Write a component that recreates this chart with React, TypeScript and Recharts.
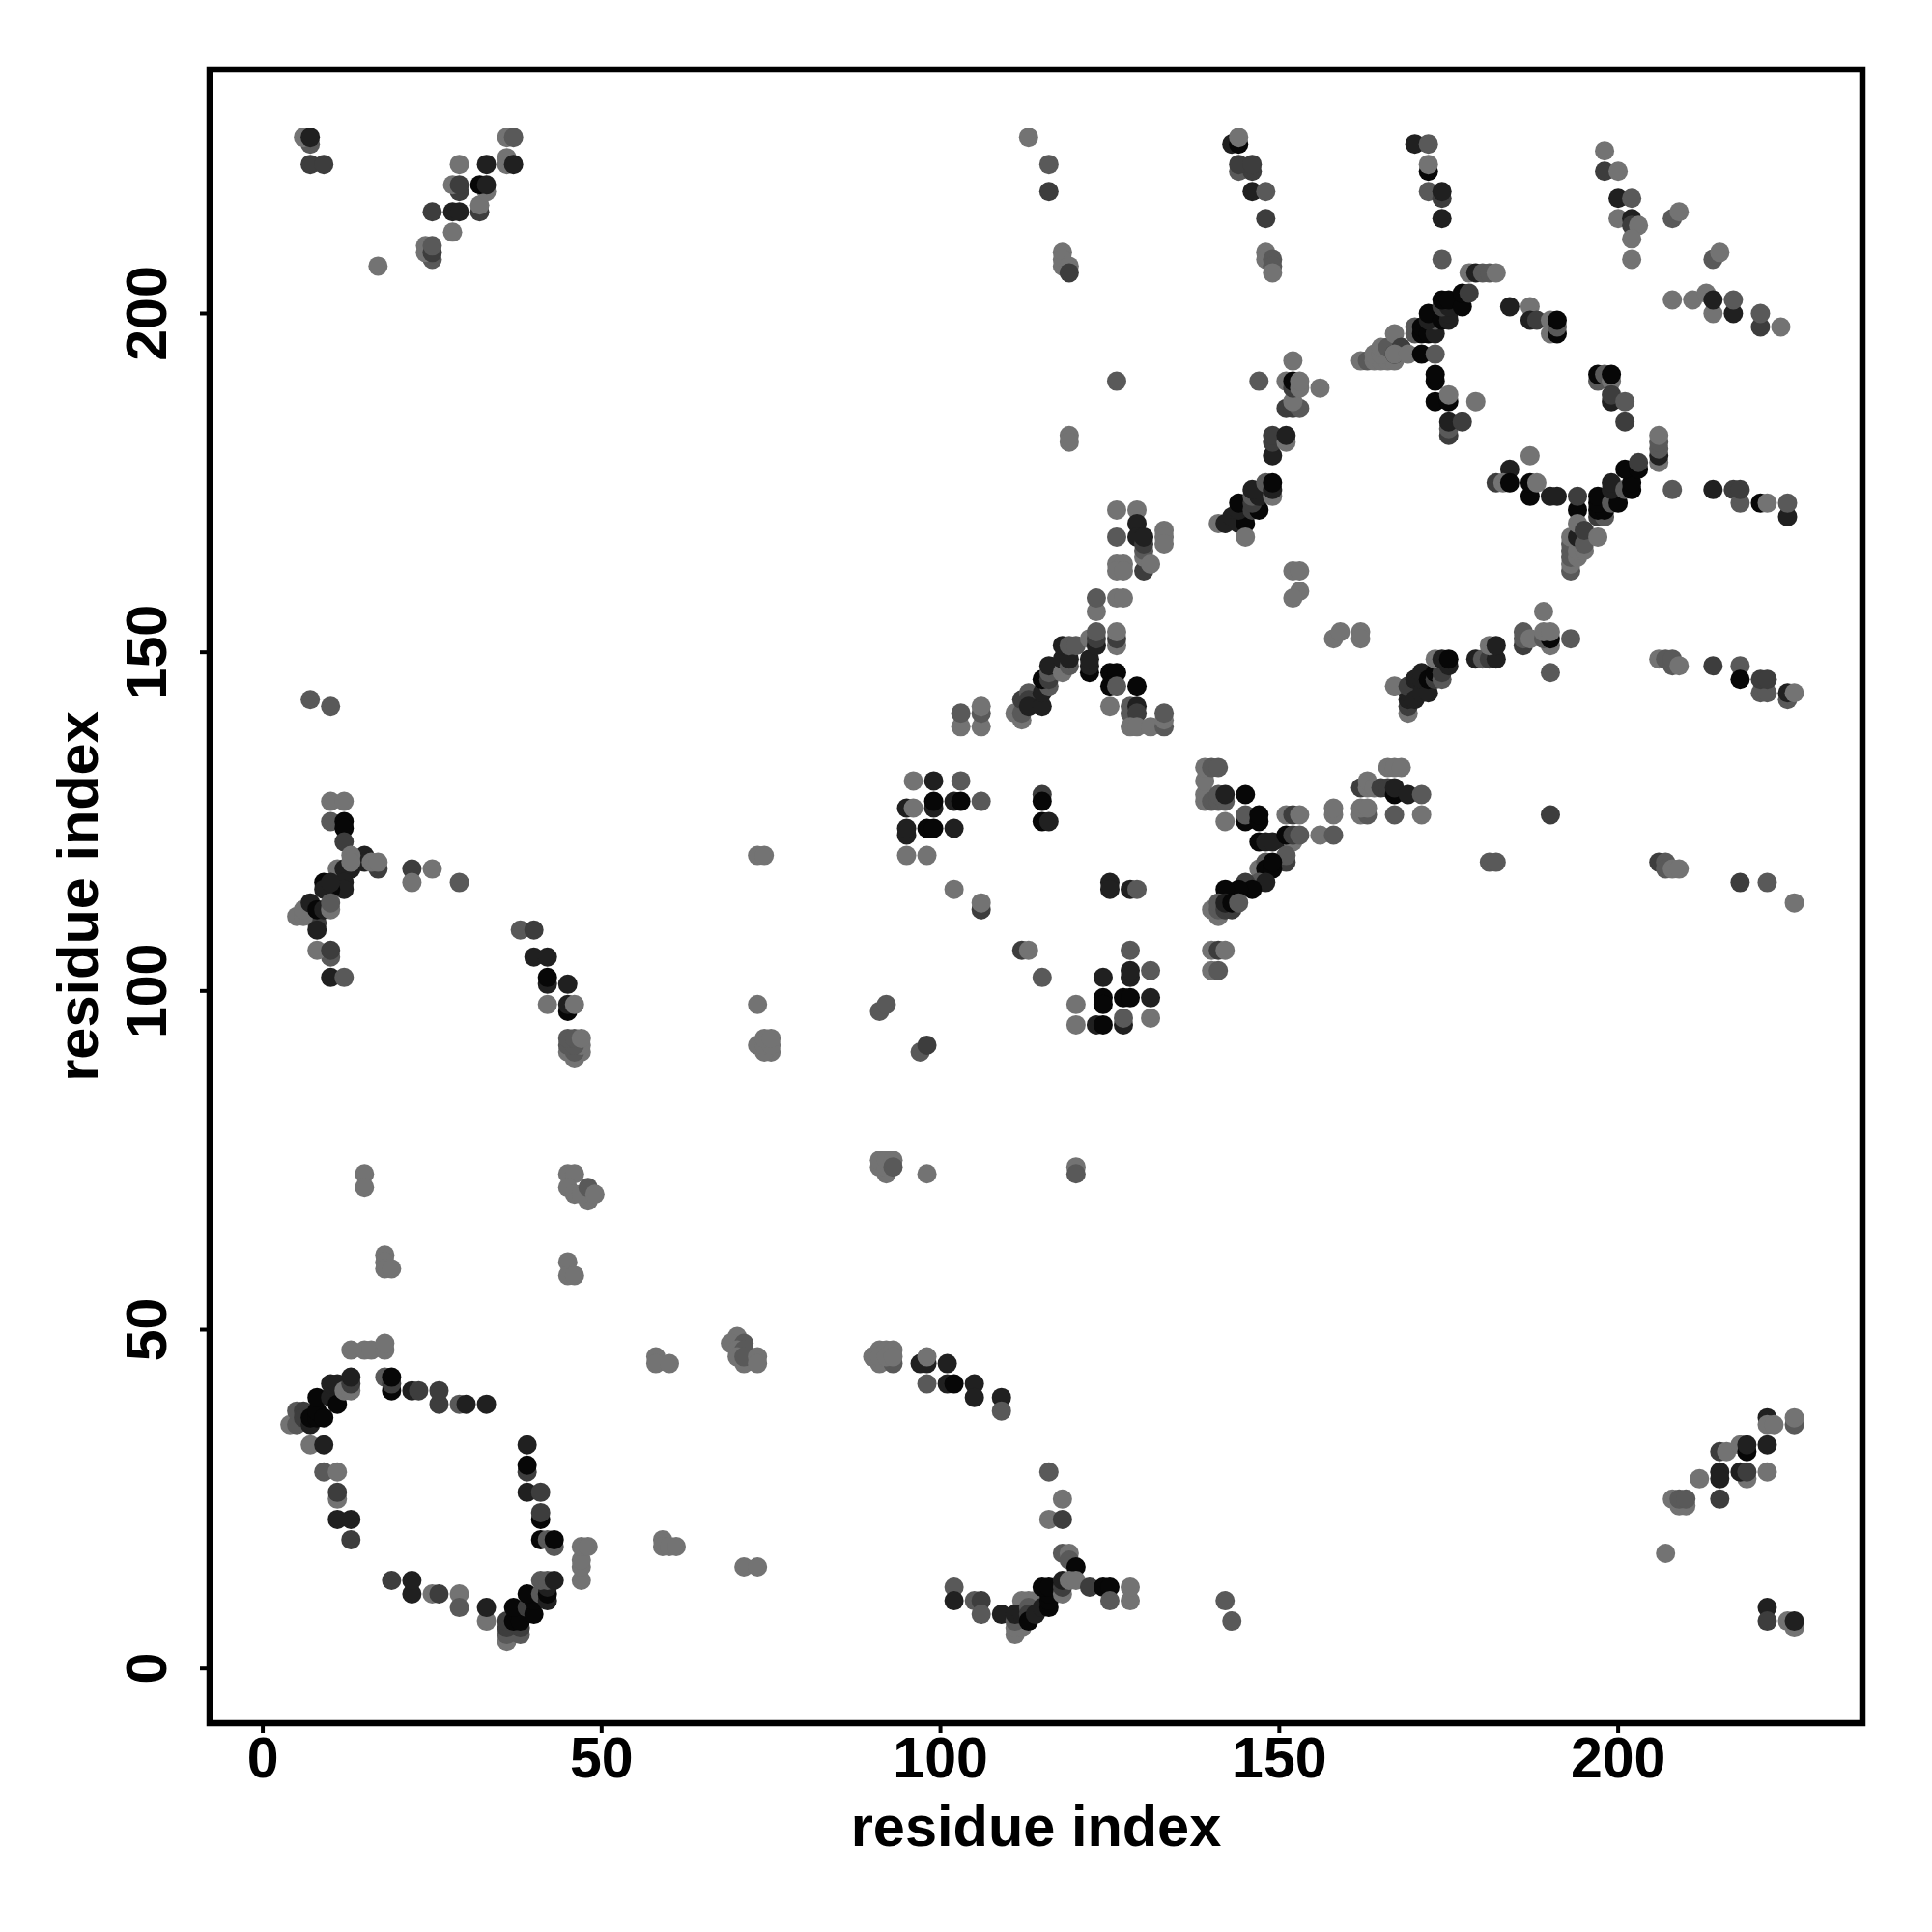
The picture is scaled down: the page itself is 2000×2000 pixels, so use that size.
import { ScatterChart, Scatter, XAxis, YAxis, ReferenceArea } from "recharts";

type Contact = [number, number, number];

// [residue x, residue y, strength bucket 0 (strong) .. 4 (weak)]
const topLeftA: Contact[] = [[7,225,3],[6,226,4],[7,226,1],[7,222,2],[9,222,2]];
const topLeftB: Contact[] = [
  [17,207,4],[25,208,3],[24,209,4],[24,210,4],[25,209,2],[25,210,3],[28,212,4],[25,215,2],[28,215,1],[29,215,1],
  [32,215,2],[32,216,4],[33,218,4],[29,218,2],[28,219,4],[29,219,2],[32,219,0],[33,219,1],[29,222,4],[33,222,1],
  [36,222,4],[36,223,4],[37,222,1],[36,226,4],[37,226,3],
];
const leftSparse: Contact[] = [
  [7,143,3],[10,142,3],[22,118,2],[25,118,4],[22,116,4],[29,116,3],[15,73,4],[15,71,4],
  [18,61,4],[18,60,4],[18,59,4],[19,59,4],[45,60,4],[45,58,4],[46,58,4],
];
const leftArm: Contact[] = [
  [10,128,4],[12,128,4],[10,125,3],[12,125,0],[12,124,0],[12,122,2],[15,120,1],[15,119,1],[17,118,2],
  [16,119,4],[17,119,4],[11,118,4],[12,118,1],[13,118,1],[13,120,4],[13,119,4],[12,116,1],[12,115,1],
  [9,116,0],[10,115,0],[9,115,1],[10,116,1],[8,110,2],[8,109,1],[5,111,4],[6,111,4],[6,112,4],[7,113,1],
  [8,112,0],[9,112,1],[10,112,4],[10,113,3],[10,105,3],[8,106,4],[10,106,2],[10,102,1],[12,102,3],
];
const strand40: Contact[] = [
  [38,109,3],[40,109,2],[40,105,1],[42,105,1],[42,101,1],[42,102,0],[45,101,1],[42,98,4],[45,97,0],[45,98,1],[46,98,4],
  [46,90,4],[45,91,4],[47,91,4],[46,91,3],[45,92,3],[47,92,4],[46,92,3],[45,93,3],[46,93,3],[47,93,4],
];
const midCluster: Contact[] = [
  [45,73,4],[46,73,4],[45,71,4],[46,70,4],[48,69,4],[47,70,4],[48,71,3],[49,70,4],
  [73,98,4],[73,92,4],[75,91,4],[74,91,4],[74,92,4],[75,92,4],[74,93,4],[75,93,4],
  [91,97,3],[92,98,3],[97,91,3],[98,92,2],[92,73,4],[91,74,4],[91,75,4],[92,74,4],[92,75,4],[93,75,4],[93,74,3],[98,73,4],
  [120,74,4],[120,73,3],
];
const band47: Contact[] = [
  [13,47,4],[15,47,4],[16,47,4],[18,47,4],[18,48,4],[58,46,4],[58,45,4],[60,45,4],
  [70,49,4],[69,48,4],[71,48,3],[70,47,4],[71,47,3],[70,46,4],[71,45,4],[71,46,3],[73,46,4],[73,45,4],
  [90,46,4],[91,47,4],[92,47,4],[93,47,4],[91,45,4],[93,45,3],[91,46,4],[92,46,4],[93,46,4],
  [97,45,1],[98,45,1],[98,46,4],[101,45,1],[98,42,3],[101,42,1],[102,42,0],[105,42,1],[105,40,1],[109,40,1],[109,38,3],
];
const loopUpper: Contact[] = [
  [4,36,4],[5,36,3],[5,38,3],[6,38,2],[6,37,2],[7,36,1],[7,37,0],[8,37,0],[8,38,0],[8,40,0],[9,37,0],[10,40,1],[11,39,0],
  [10,42,1],[11,42,1],[12,41,4],[13,41,4],[13,42,2],[13,43,1],[7,33,4],[9,33,1],[9,29,3],[11,29,4],[11,25,4],[11,26,2],
  [11,22,1],[13,22,1],[13,19,2],[18,43,3],[19,41,0],[19,42,2],[19,43,0],[22,41,1],[23,41,2],[26,39,2],[26,41,2],
  [29,39,3],[30,39,1],[33,39,1],[39,33,1],[39,29,2],[39,30,0],[39,26,1],[41,26,2],[41,22,0],[41,23,2],[43,18,3],[41,19,0],[42,19,3],[43,19,0],
];
const loopLower: Contact[] = [
  [19,13,2],[22,11,1],[22,13,1],[25,11,4],[26,11,2],[29,11,4],[29,9,3],[33,7,4],[33,9,1],
  [36,4,4],[36,5,3],[38,5,3],[36,6,2],[38,6,2],[36,7,2],[37,7,0],[38,7,0],[37,9,0],[39,9,2],[40,8,0],[40,10,0],[39,11,0],
  [41,11,3],[42,10,1],[42,11,0],[42,12,1],[41,13,3],[42,13,3],[43,13,1],
  [47,13,4],[47,15,4],[47,16,4],[47,18,4],[48,18,4],[59,19,4],[59,18,4],[60,18,4],[61,18,4],[71,15,4],[73,15,4],
];
const lowerMid: Contact[] = [
  [102,12,3],[102,10,1],[105,10,3],[106,10,2],[106,8,3],[109,8,1],[111,5,4],[111,6,4],[112,6,4],[111,7,3],
  [112,10,4],[113,10,4],[114,10,4],[111,8,1],[112,8,1],[113,9,3],[113,8,2],[113,7,0],[114,8,1],[115,9,1],[116,9,0],
  [116,10,0],[116,11,0],[115,12,0],[116,12,0],[116,29,3],[116,22,4],[118,22,2],[118,25,4],[118,17,3],[119,17,4],[119,16,3],
  [118,11,4],[118,12,2],[118,13,1],[120,15,0],[119,13,4],[120,13,4],[122,12,2],[124,12,0],[125,12,0],[125,10,3],
  [128,10,4],[128,12,4],[142,10,3],[143,7,3],
];
const lowerRight: Contact[] = [
  [207,17,4],[208,25,4],[209,24,4],[210,24,4],[209,25,3],[210,25,3],[212,28,4],[215,25,2],[215,29,1],[215,28,1],
  [215,32,2],[216,32,4],[218,33,4],[219,32,0],[219,33,1],[219,28,4],[218,29,1],[219,29,2],[222,33,1],[222,29,4],
  [222,37,1],[222,36,4],[223,36,4],[226,36,3],[226,37,4],[222,9,1],[222,7,2],[226,6,4],[225,7,4],[226,7,1],
];
const grid100: Contact[] = [
  [115,102,3],[120,98,4],[120,95,4],[124,102,1],[124,99,0],[124,98,0],[123,95,1],[124,95,0],[127,99,0],[128,99,0],
  [128,102,1],[128,103,1],[131,99,1],[127,95,1],[127,96,3],[131,96,4],[131,103,3],[128,106,3],
  [112,106,2],[113,106,4],[106,112,2],[106,113,4],[125,116,1],[125,115,1],[128,115,1],[129,115,3],[102,115,4],
];
const grid125: Contact[] = [
  [96,131,4],[99,131,1],[103,131,3],[95,127,1],[96,127,4],[99,127,1],[99,128,0],[102,128,1],[103,128,0],[106,128,3],
  [95,123,1],[95,124,1],[98,124,0],[99,124,0],[102,124,1],[95,120,4],[98,120,4],[73,120,4],[74,120,4],
  [115,129,2],[115,128,0],[115,125,0],[116,125,1],
];
const arm120: Contact[] = [
  [103,139,4],[103,141,3],[106,139,4],[106,141,3],[106,142,4],[111,141,4],[112,140,4],[112,141,3],[112,143,2],[113,144,3],
  [113,143,2],[113,142,1],[115,142,1],[115,144,1],[116,145,3],[115,146,0],[116,146,2],[116,147,3],[116,148,1],
  [118,147,4],[118,149,1],[119,148,3],[119,149,1],[118,151,1],[119,151,3],[120,151,3],[122,152,4],[122,147,0],[122,148,1],[122,149,1],
  [123,151,1],[123,152,2],[123,153,3],[126,151,4],[126,152,2],[126,153,4],[125,147,0],[126,147,0],[125,145,0],[126,145,3],
  [129,145,0],[125,142,4],[128,141,3],[128,142,3],[129,142,1],[129,141,2],[128,139,4],[129,139,4],[131,139,4],
  [133,139,3],[133,140,4],[133,141,3],[123,156,4],[123,158,3],[126,158,4],[127,158,4],
];
const arm165: Contact[] = [
  [126,171,4],[129,171,4],[129,169,1],[126,167,3],[129,167,1],[130,162,2],[130,164,4],[130,165,3],[130,166,2],[130,167,1],
  [133,168,4],[133,167,4],[133,166,4],[131,163,4],[126,163,4],[127,163,4],[126,162,4],[127,162,4],
  [126,190,3],[119,182,4],[119,181,4],[118,209,4],[118,208,4],[118,207,4],[119,207,4],[119,206,2],[113,226,4],[116,222,3],[116,218,2],
];
const strand145: Contact[] = [
  [141,169,4],[142,169,1],[143,170,1],[144,169,1],[145,169,0],[145,167,4],[144,171,1],[144,172,0],[146,171,2],[147,171,0],
  [146,172,2],[146,173,3],[147,173,1],[146,174,1],[148,175,3],[149,173,4],[149,174,1],[149,175,0],[149,179,1],[149,181,2],
  [149,182,2],[151,181,4],[151,182,1],[151,186,2],[152,186,2],[153,186,3],[152,187,4],[147,190,3],[151,190,4],[152,189,2],
  [152,190,0],[153,189,4],[153,190,4],[156,189,4],[152,193,4],[152,162,4],[153,162,4],[153,159,4],[152,158,4],
  [158,152,4],[159,153,4],[162,153,4],[162,152,4],
];
const topColumns: Contact[] = [
  [143,225,1],[144,225,0],[144,226,4],[144,221,3],[146,221,2],[144,222,2],[146,222,2],[146,218,1],[148,218,3],[148,214,2],
  [148,209,4],[148,208,4],[149,208,3],[149,207,3],[149,206,4],[170,225,1],[172,225,3],[172,221,0],[172,222,4],
  [172,218,3],[174,217,2],[174,218,1],[174,214,1],[174,208,3],[198,224,4],[198,221,2],[200,221,4],[200,217,1],[202,217,3],
  [200,214,4],[202,214,1],[202,213,2],[203,213,4],[202,211,4],[202,208,4],[208,214,3],[209,215,4],[214,208,3],[215,209,4],
  [208,202,4],[211,202,4],[213,203,4],[214,200,4],[214,202,1],[217,200,1],[217,202,3],[221,198,2],[221,200,3],[224,198,4],
];
const band194: Contact[] = [
  [162,193,4],[163,193,3],[164,193,4],[165,193,4],[166,193,4],[167,193,4],[164,194,4],[165,194,4],[165,195,4],[166,195,3],
  [167,194,1],[167,197,4],[168,195,2],[167,194,4],[169,194,4],[171,194,0],[173,194,3],[173,190,0],[173,191,0],
  [173,187,0],[175,187,0],[175,188,4],[179,187,4],[175,182,2],[175,183,3],[175,184,1],[177,184,2],
  [170,197,3],[170,198,3],[171,197,0],[171,198,0],[172,197,0],[173,197,1],[173,199,3],[172,199,1],[172,200,0],[174,199,0],[175,199,1],
  [175,200,1],[174,201,2],[175,201,1],[174,202,0],[175,202,0],[177,201,0],[177,203,0],[178,203,2],
  [178,206,4],[179,206,1],[180,206,3],[181,206,3],[182,206,4],
  [184,201,1],[187,201,4],[187,199,1],[188,199,2],[190,197,4],[190,199,4],[191,197,0],[191,198,3],[191,199,0],
  [197,190,3],[197,191,0],[198,191,3],[199,190,4],[199,191,0],[199,187,1],[199,188,2],[201,187,3],[201,184,2],
];
const band173: Contact[] = [
  [187,179,4],[184,177,1],[182,175,2],[183,175,4],[184,175,0],[187,173,0],[187,175,0],[188,175,4],[190,173,1],[191,173,1],
  [194,171,0],[194,173,2],[197,170,2],[198,170,3],[197,171,0],[198,171,0],[197,172,0],[197,173,0],[199,172,3],[200,172,0],
  [199,174,1],[199,175,1],[201,174,3],[202,174,0],[202,175,0],[201,177,0],[203,177,0],[203,178,2],
  [206,178,4],[206,179,1],[206,180,3],[206,181,3],[206,182,4],[208,174,3],[214,174,1],[217,174,2],[218,172,3],[218,174,2],
  [221,172,0],[222,172,4],[225,170,1],[225,172,3],
];
const column193: Contact[] = [
  [193,162,3],[193,163,4],[193,164,3],[193,165,3],[193,166,3],[194,164,4],[194,165,4],[193,167,4],[194,167,1],[195,165,4],
  [195,166,3],[194,169,4],[195,168,2],[197,167,4],
];
const band150: Contact[] = [
  [169,141,4],[169,142,2],[169,143,1],[169,144,1],[167,145,4],[169,145,2],[170,143,1],[170,146,1],[171,144,1],[171,146,1],[171,147,1],
  [172,144,1],[172,146,0],[173,146,2],[173,147,0],[174,146,3],[174,147,2],[173,149,4],[174,149,1],[175,148,1],[175,149,0],
  [179,149,1],[180,149,3],[181,149,2],[182,149,1],[181,151,4],[182,151,1],[186,151,2],[186,152,3],[186,153,3],[187,152,4],
  [189,156,4],[190,151,4],[189,152,3],[190,152,0],[189,153,4],[190,153,4],[193,152,3],[190,147,3],
  [206,149,4],[207,149,3],[208,148,3],[208,149,3],[209,148,4],[214,148,2],[218,148,3],[218,146,0],
  [221,144,3],[222,144,3],[221,146,2],[222,146,2],[225,143,3],[225,144,1],[226,144,4],
];
const band125: Contact[] = [
  [139,128,4],[139,129,4],[139,131,4],[139,133,4],[140,133,3],[141,133,3],[140,128,3],[141,128,3],[142,128,3],[141,129,3],[142,129,1],
  [145,129,0],[142,125,4],[145,125,0],[145,126,3],[147,125,0],[147,126,0],[151,126,4],[152,126,2],[153,126,4],
  [147,122,0],[148,122,1],[149,122,1],[151,122,1],[152,122,4],[151,123,0],[152,123,2],[153,123,3],[156,123,4],[158,123,3],
  [158,126,4],[158,127,4],[151,119,2],[151,120,3],[147,118,4],[148,119,3],[148,118,0],[149,118,0],[149,119,0],
  [147,116,3],[148,116,1],[145,116,2],[146,115,0],[144,115,0],[142,115,0],[141,111,4],[140,112,4],[141,112,3],[141,113,3],
  [142,112,2],[143,112,2],[142,113,1],[143,113,0],[144,113,3],[140,106,4],[141,106,2],[142,106,4],[140,103,4],[141,103,3],
];
const band130: Contact[] = [
  [166,133,4],[167,133,4],[168,133,4],[162,130,2],[163,130,4],[163,131,4],[164,130,4],[165,130,2],[166,130,2],[167,129,0],
  [167,130,1],[169,129,1],[171,129,3],[162,126,4],[163,126,3],[162,127,4],[163,127,4],[167,126,3],[171,126,4],
  [181,119,3],[182,119,3],[190,126,2],[206,119,2],[207,119,3],[207,118,3],[208,118,4],[209,118,4],[218,116,2],[222,116,3],[226,113,4],
];

const contacts = [
  topLeftA, topLeftB, leftSparse, leftArm, strand40, midCluster, band47, loopUpper, loopLower, lowerMid, lowerRight,
  grid100, grid125, arm120, arm165, strand145, topColumns, band194, band173, column193, band150, band125, band130,
]
  .flat()
  .map(([x, y, strength]) => ({ x, y, strength }));

const tickValues = [0, 50, 100, 150, 200];
const shades = ["#070707", "#202020", "#3d3d3d", "#595959", "#737373"];
const font = "'Liberation Sans', Arial, sans-serif";

function YTick({ x, y, payload }: any) {
  return (
    <text
      x={x}
      y={y}
      transform={`rotate(-90 ${x} ${y})`}
      textAnchor="middle"
      fontFamily={font}
      fontWeight="bold"
      fontSize={59}
      fill="#000"
    >
      {payload.value}
    </text>
  );
}

function Dot({ cx, cy, payload }: any) {
  return <circle cx={cx} cy={cy} r={10} fill={shades[payload.strength]} />;
}

export default function App() {
  return (
    <div style={{ position: "absolute", left: 0, top: 0 }}>
      <ScatterChart width={2000} height={2000} margin={{ top: 72, right: 72, bottom: 0, left: 0 }}>
        <XAxis
          type="number"
          dataKey="x"
          domain={[-7.85, 236.05]}
          ticks={tickValues}
          allowDataOverflow
          height={216}
          axisLine={false}
          tickSize={10}
          tickMargin={4}
          tickLine={{ stroke: "#000", strokeWidth: 4 }}
          tick={{ fill: "#000", fontSize: 59, fontWeight: "bold", fontFamily: font }}
          interval={0}
          label={{
            value: "residue index",
            position: "insideBottom",
            offset: 89,
            fill: "#000",
            fontSize: 59.5,
            fontWeight: "bold",
            fontFamily: font,
          }}
        />
        <YAxis
          type="number"
          dataKey="y"
          domain={[-8.1, 236]}
          ticks={tickValues}
          allowDataOverflow
          width={217}
          axisLine={false}
          tickSize={10}
          tickMargin={35}
          tickLine={{ stroke: "#000", strokeWidth: 4 }}
          tick={<YTick />}
          interval={0}
          label={{
            value: "residue index",
            angle: -90,
            position: "insideLeft",
            offset: 80,
            textAnchor: "middle",
            fill: "#000",
            fontSize: 59.5,
            fontWeight: "bold",
            fontFamily: font,
          }}
        />
        <Scatter data={contacts} isAnimationActive={false} shape={<Dot />} />
        <ReferenceArea
          x1={-7.85}
          x2={236.05}
          y1={-8.1}
          y2={236}
          fill="none"
          stroke="#000"
          strokeWidth={6.5}
          ifOverflow="visible"
        />
      </ScatterChart>
    </div>
  );
}
